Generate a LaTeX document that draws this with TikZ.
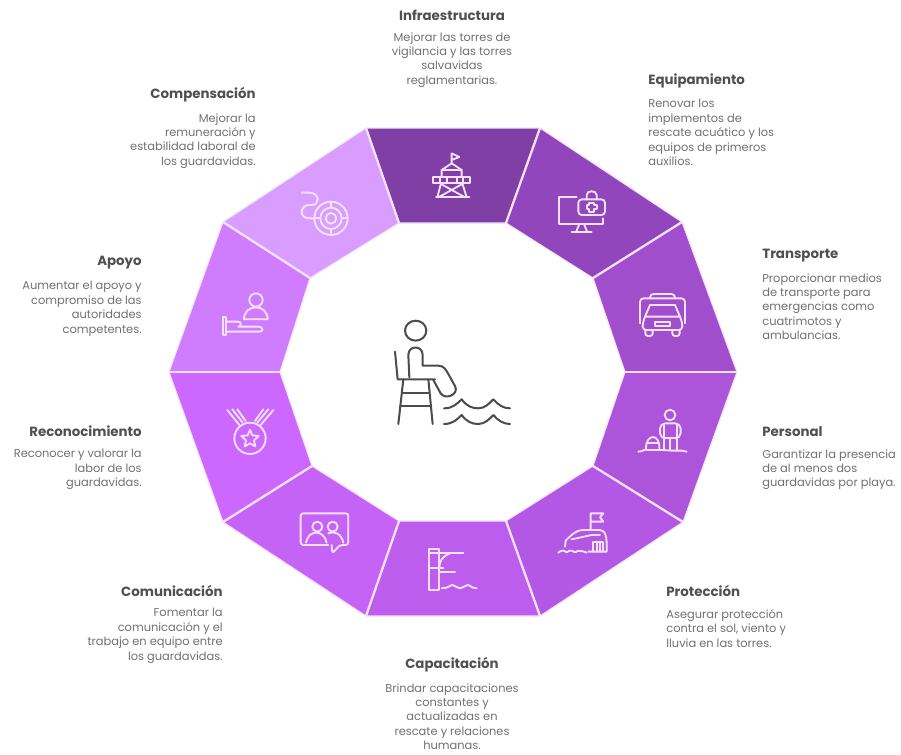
\documentclass[tikz,border=0pt]{standalone}
\usepackage{fontspec}
\setmainfont{Poppins}
\definecolor{segA}{HTML}{7F3FA5}
\definecolor{segB}{HTML}{9146BB}
\definecolor{segC}{HTML}{A04ECC}
\definecolor{segD}{HTML}{AC54DA}
\definecolor{segE}{HTML}{B358E4}
\definecolor{segF}{HTML}{BD5DEE}
\definecolor{segG}{HTML}{C663F7}
\definecolor{segH}{HTML}{CC68FF}
\definecolor{segI}{HTML}{CF7CFF}
\definecolor{segJ}{HTML}{D99CFF}
\definecolor{edgepink}{HTML}{F6E2FF}
\definecolor{headgrey}{HTML}{505050}
\definecolor{bodygrey}{HTML}{707070}
\tikzset{
	segment/.style={draw=edgepink, line width=0.6pt, line join=round},
	divider/.style={draw=edgepink, line width=1.3pt},
	icon/.style={draw=edgepink, line width=1.05pt, line cap=round, line join=round},
	guard/.style={draw=black!70, line width=1.15pt, line cap=round, line join=round},
	heading/.style={text=headgrey, font=\fontsize{7.6}{9}\selectfont\bfseries, inner sep=0pt},
	blurb/.style={text=bodygrey, font=\fontsize{6.5}{8.2}\selectfont, inner sep=0pt, anchor=north},
}
\begin{document}
\begin{tikzpicture}[x=0.02cm, y=-0.02cm]
		\useasboundingbox (0, 0) rectangle (901, 754);
		
		%%%%% RING %%%%%
		\filldraw[segment, fill=segA] (366, 128) -- (540, 128) -- (506, 223) -- (399, 223) -- cycle;
		\filldraw[segment, fill=segB] (540, 128) -- (682, 222) -- (593, 278) -- (506, 223) -- cycle;
		\filldraw[segment, fill=segC] (682, 222) -- (737, 372) -- (625, 372) -- (593, 278) -- cycle;
		\filldraw[segment, fill=segD] (737, 372) -- (683, 522) -- (593, 466) -- (625, 372) -- cycle;
		\filldraw[segment, fill=segE] (683, 522) -- (540, 616) -- (506, 521) -- (593, 466) -- cycle;
		\filldraw[segment, fill=segF] (540, 616) -- (366, 616) -- (399, 521) -- (506, 521) -- cycle;
		\filldraw[segment, fill=segG] (366, 616) -- (223, 522) -- (312, 466) -- (399, 521) -- cycle;
		\filldraw[segment, fill=segH] (223, 522) -- (169, 372) -- (280, 372) -- (312, 466) -- cycle;
		\filldraw[segment, fill=segI] (169, 372) -- (223, 222) -- (310, 278) -- (280, 372) -- cycle;
		\filldraw[segment, fill=segJ] (223, 222) -- (366, 128) -- (399, 223) -- (310, 278) -- cycle;
		
		\draw[divider] (540, 128) -- (506, 223);
		\draw[divider] (682, 222) -- (593, 278);
		\draw[divider] (737, 372) -- (625, 372);
		\draw[divider] (683, 522) -- (593, 466);
		\draw[divider] (540, 616) -- (506, 521);
		\draw[divider] (366, 616) -- (399, 521);
		\draw[divider] (223, 522) -- (312, 466);
		\draw[divider] (169, 372) -- (280, 372);
		\draw[divider] (223, 222) -- (310, 278);
		\draw[divider] (366, 128) -- (399, 223);
		
		%%%%% LIFEGUARD %%%%%
		\begin{scope}[shift={(370, 300)}, scale=0.3333]
			\draw[guard] (137, 92) ellipse (32 and 30);
			\draw[guard] (75, 155) -- (83, 238) -- (195, 238);
			\draw[guard] (118, 232) -- (115, 165) .. controls (115, 135) and (158, 135) .. (158, 165) -- (158, 197) -- (205, 197) .. controls (222, 197) and (228, 210) .. (235, 222) -- (256, 260) .. controls (266, 285) and (225, 300) .. (212, 280) -- (190, 240);
			\draw[guard] (100, 238) -- (85, 372);
			\draw[guard] (175, 238) -- (188, 372);
			\draw[guard] (97, 278) -- (178, 278);
			\draw[guard] (90, 318) -- (183, 318);
			\draw[guard] (222, 325) .. controls (250, 325) and (262, 310) .. (275, 298) .. controls (290, 318) and (305, 325) .. (325, 325) .. controls (345, 325) and (358, 310) .. (370, 298) .. controls (385, 315) and (400, 325) .. (420, 325);
			\draw[guard] (222, 372) .. controls (250, 372) and (262, 357) .. (275, 345) .. controls (290, 365) and (305, 372) .. (325, 372) .. controls (345, 372) and (358, 357) .. (370, 345) .. controls (385, 362) and (400, 372) .. (420, 372);
		\end{scope}
		
		%%%%% ICONS %%%%%
		% tower
		\begin{scope}[shift={(340, 110)}, scale=0.3333]
			\draw[icon] (335, 160) -- (335, 130) -- (358, 141) -- (335, 150);
			\draw[icon] (305, 200) -- (305, 180) -- (335, 160) -- (365, 180) -- (365, 200);
			\draw[icon] (305, 180) -- (365, 180);
			\draw[icon] (280, 202) rectangle (390, 220);
			\draw[icon] (300, 202) -- (300, 220) (320, 202) -- (320, 220) (350, 202) -- (350, 220) (370, 202) -- (370, 220);
			\draw[icon] (303, 220) -- (292, 262) (367, 220) -- (380, 262);
			\draw[icon] (288, 262) -- (388, 262);
			\draw[icon] (303, 222) -- (375, 262) (367, 222) -- (295, 262);
		\end{scope}
		% monitor and kit
		\begin{scope}[shift={(540, 190)}, scale=0.3333]
			\draw[icon] (110, 22) -- (58, 22) -- (58, 102) -- (190, 102) -- (190, 85);
			\draw[icon] (118, 102) -- (108, 127) (132, 102) -- (142, 127);
			\draw[icon] (95, 127) -- (155, 127);
			\draw[icon, rounded corners=2pt] (115, 28) rectangle (195, 75);
			\draw[icon] (140, 28) -- (140, 15) .. controls (140, 0) and (170, 0) .. (170, 15) -- (170, 28);
			\draw[icon] (148, 38) -- (162, 38) -- (162, 46) -- (170, 46) -- (170, 58) -- (162, 58) -- (162, 66) -- (148, 66) -- (148, 58) -- (140, 58) -- (140, 46) -- (148, 46) -- cycle;
		\end{scope}
		% ambulance
		\begin{scope}[shift={(540, 190)}, scale=0.3333]
			\draw[icon, rounded corners=2pt] (300, 400) -- (300, 325) -- (435, 325) -- (435, 400);
			\draw[icon, rounded corners=2pt] (330, 325) -- (330, 312) -- (405, 312) -- (405, 325);
			\draw[icon] (330, 345) -- (405, 345) -- (420, 380) -- (315, 380) -- cycle;
			\draw[icon, rounded corners=2pt] (315, 380) -- (308, 400) -- (308, 420) -- (427, 420) -- (427, 400) -- (420, 380);
			\draw[icon] (345, 395) rectangle (390, 408);
			\draw[icon, rounded corners=1.5pt] (316, 420) -- (316, 438) -- (338, 438) -- (338, 420);
			\draw[icon, rounded corners=1.5pt] (397, 420) -- (397, 438) -- (419, 438) -- (419, 420);
		\end{scope}
		% guard with child
		\begin{scope}[shift={(520, 370)}, scale=0.3333]
			\draw[icon] (450, 135) circle (16);
			\draw[icon, rounded corners=3pt] (432, 205) -- (420, 205) -- (420, 160) -- (482, 160) -- (482, 205) -- (470, 205);
			\draw[icon] (432, 165) -- (432, 240) (470, 165) -- (470, 240);
			\draw[icon] (432, 205) -- (470, 205) (450, 205) -- (450, 240);
			\draw[icon] (378, 235) .. controls (378, 190) and (420, 190) .. (418, 235);
			\draw[icon] (380, 218) -- (416, 218);
			\draw[icon] (355, 245) .. controls (370, 245) and (372, 236) .. (385, 240) -- (430, 240) .. controls (470, 245) and (480, 238) .. (500, 245);
		\end{scope}
		% shelter with flag
		\begin{scope}[shift={(520, 370)}, scale=0.3333]
			\draw[icon] (212, 480) -- (212, 430) -- (250, 430) -- (240, 442) -- (250, 455) -- (212, 455);
			\draw[icon] (135, 530) -- (137, 512) .. controls (150, 500) and (165, 480) .. (190, 480) -- (240, 480) .. controls (255, 482) and (262, 495) .. (260, 545) -- (205, 545);
			\draw[icon] (155, 508) -- (215, 495) -- (240, 495);
			\draw[icon] (220, 545) -- (220, 515) -- (250, 515) -- (250, 545) (230, 515) -- (230, 545) (240, 515) -- (240, 545);
			\draw[icon] (115, 548) .. controls (125, 540) and (130, 540) .. (140, 547) .. controls (150, 540) and (155, 540) .. (165, 547) .. controls (175, 540) and (185, 542) .. (200, 548);
		\end{scope}
		% diving platform
		\begin{scope}[shift={(200, 370)}, scale=0.3333]
			\draw[icon] (687, 538) rectangle (718, 660);
			\draw[icon] (687, 550) -- (790, 550);
			\draw[icon] (718, 605) -- (765, 605);
			\draw[icon] (750, 550) .. controls (725, 560) and (718, 575) .. (718, 595);
			\draw[icon] (687, 595) -- (730, 595);
			\draw[icon] (725, 655) .. controls (745, 655) and (750, 645) .. (758, 645) .. controls (765, 645) and (770, 655) .. (780, 655) .. controls (790, 655) and (795, 645) .. (803, 645) .. controls (810, 645) and (815, 655) .. (830, 655);
		\end{scope}
		% chat with people
		\begin{scope}[shift={(200, 370)}, scale=0.3333]
			\draw[icon, rounded corners=1.5pt] (385, 525) -- (302, 525) -- (302, 430) -- (445, 430) -- (445, 525) -- (420, 525) -- (397, 550) -- (395, 525);
			\draw[icon] (352, 470) circle (15);
			\draw[icon] (398, 470) circle (15);
			\draw[icon] (318, 518) .. controls (325, 478) and (372, 478) .. (380, 518);
			\draw[icon] (385, 490) .. controls (400, 482) and (425, 490) .. (430, 518);
		\end{scope}
		% medal
		\begin{scope}[shift={(200, 370)}, scale=0.3333]
			\draw[icon] (150, 205) circle (47);
			\draw[icon] (150, 180) -- (157, 196) -- (176, 198) -- (162, 211) -- (166, 229) -- (150, 220) -- (134, 229) -- (138, 211) -- (124, 198) -- (143, 196) -- cycle;
			\draw[icon] (82, 120) -- (118, 165) (97, 118) -- (128, 158) (112, 118) -- (137, 153);
			\draw[icon] (220, 120) -- (182, 165) (205, 118) -- (172, 158) (190, 118) -- (165, 153);
		\end{scope}
		% hand with person
		\begin{scope}[shift={(170, 130)}, scale=0.3333]
			\draw[icon] (258, 510) circle (20);
			\draw[icon] (222, 568) .. controls (222, 520) and (293, 520) .. (293, 568) -- cycle;
			\draw[icon] (158, 560) rectangle (168, 615);
			\draw[icon] (168, 575) -- (205, 575) .. controls (215, 575) and (215, 590) .. (205, 590) -- (265, 590) .. controls (280, 590) and (282, 605) .. (268, 605) -- (168, 605);
		\end{scope}
		% pay ring
		\begin{scope}[shift={(170, 130)}, scale=0.3333]
			\draw[icon] (483, 265) circle (50);
			\draw[icon] (483, 265) circle (32);
			\draw[icon] (483, 265) circle (16);
			\draw[icon] (483, 215) -- (483, 233) (483, 297) -- (483, 315) (433, 265) -- (451, 265) (515, 265) -- (533, 265);
			\draw[icon] (395, 188) -- (420, 188) .. controls (450, 190) and (450, 225) .. (425, 225) -- (415, 225) .. controls (390, 228) and (385, 265) .. (420, 265) -- (433, 265);
		\end{scope}
		
		%%%%% TEXT %%%%%
		\node[heading] (infraHead) at (452, 15) {Infraestructura};
		\node[blurb, align=center] (infraText) at (452, 32) {Mejorar las torres de\\vigilancia y las torres\\salvavidas\\reglamentarias.};
		
		\node[heading, anchor=west] (equipHead) at (648, 81) {Equipamiento};
		\node[blurb, align=left, anchor=north west] (equipText) at (648, 99) {Renovar los\\implementos de\\rescate acuático y los\\equipos de primeros\\auxilios.};
		
		\node[heading, anchor=west] (transHead) at (762, 256) {Transporte};
		\node[blurb, align=left, anchor=north west] (transText) at (762, 273) {Proporcionar medios\\de transporte para\\emergencias como\\cuatrimotos y\\ambulancias.};
		
		\node[heading, anchor=west] (persHead) at (762, 432) {Personal};
		\node[blurb, align=left, anchor=north west] (persText) at (762, 449) {Garantizar la presencia\\de al menos dos\\guardavidas por playa.};
		
		\node[heading, anchor=west] (protHead) at (666, 591) {Protección};
		\node[blurb, align=left, anchor=north west] (protText) at (666, 609) {Asegurar protección\\contra el sol, viento y\\lluvia en las torres.};
		
		\node[heading] (capHead) at (452, 665) {Capacitación};
		\node[blurb, align=center] (capText) at (452, 683) {Brindar capacitaciones\\constantes y\\actualizadas en\\rescate y relaciones\\humanas.};
		
		\node[heading, anchor=east] (comuHead) at (223, 591) {Comunicación};
		\node[blurb, align=right, anchor=north east] (comuText) at (223, 608) {Fomentar la\\comunicación y el\\trabajo en equipo entre\\los guardavidas.};
		
		\node[heading, anchor=east] (recoHead) at (142, 431) {Reconocimiento};
		\node[blurb, align=right, anchor=north east] (recoText) at (142, 449) {Reconocer y valorar la\\labor de los\\guardavidas.};
		
		\node[heading, anchor=east] (apoyoHead) at (142, 263) {Apoyo};
		\node[blurb, align=right, anchor=north east] (apoyoText) at (142, 281) {Aumentar el apoyo y\\compromiso de las\\autoridades\\competentes.};
		
		\node[heading, anchor=east] (compHead) at (256, 95) {Compensación};
		\node[blurb, align=right, anchor=north east] (compText) at (256, 113) {Mejorar la\\remuneración y\\estabilidad laboral de\\los guardavidas.};
	\end{tikzpicture}
\end{document}
